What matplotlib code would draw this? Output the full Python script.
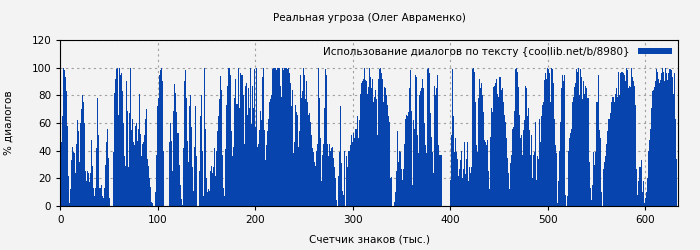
import numpy as np
import matplotlib
matplotlib.use("Agg")
import matplotlib.pyplot as plt

# % of dialogue per 1000 characters
part1 = [40, 46, 65, 100, 98, 93, 83, 58, 22, 2,
         12, 33, 43, 39, 38, 24, 45, 62, 54, 32,
         60, 70, 80, 75, 60, 25, 18, 30, 25, 24,
         17, 24, 48, 29, 13, 7, 13, 42, 78, 51,
         13, 13, 15, 7, 6, 13, 30, 46, 56, 35,
         6, 0, 0, 0, 39, 82, 92, 99, 100, 66,
         100, 95, 96, 83, 60, 36, 29, 66, 90, 69,
         28, 67, 100, 55, 63, 46, 44, 58, 60, 47,
         56, 81, 52, 36, 45, 46, 51, 63, 70, 34,
         29, 20, 14, 3, 2, 0, 0]
part2 = [10, 37, 72, 78, 95, 98, 100, 90, 40, 0,
         0, 0, 0, 0, 0, 46, 60, 47, 25, 69,
         88, 82, 68, 53, 53, 30, 15, 5, 1, 42,
         90, 98, 78, 47, 32, 72, 80, 57, 28, 11,
         43, 72, 36, 0, 0, 25, 65, 80, 40, 7,
         58, 100, 56, 20, 10, 12, 11, 25, 29, 24,
         28, 42, 22, 40, 54, 65, 77, 94, 84, 37,
         13, 7, 41, 73, 87, 100, 100, 95, 54, 36,
         43, 78, 92, 74, 74, 100, 71, 96, 95, 95,
         94, 80, 45, 87, 89, 66, 85, 71, 100, 59,
         87, 71, 99, 57, 100, 43, 45, 55, 69, 62,
         93, 100, 55]
part3 = [33, 44, 54, 63, 75, 77, 80, 99, 100, 100,
         100, 98, 100, 100, 100, 87, 79, 100, 100, 98,
         100, 100, 100, 99, 100, 96, 89, 72, 84, 38,
         46, 73, 68, 66, 43, 54, 95, 78, 83, 100,
         95, 77, 90, 75, 66, 67, 61, 51, 42, 39,
         32, 29, 40, 45, 100, 78, 49, 33, 18, 37,
         45, 71, 99, 95, 45, 36, 45, 40, 42, 43,
         35, 28, 20, 4, 0, 22, 39, 72, 31, 11,
         8, 40, 0, 36, 28, 40, 40, 44, 51, 46,
         53, 49, 56, 56, 65, 49, 62, 80, 81, 89,
         90, 92, 100]
part4 = [91, 90, 81, 86, 100, 93, 85, 92, 75, 79,
         84, 77, 51, 92, 99, 100, 96, 92, 75,
         86, 85, 80, 73, 65, 61, 20, 21, 0, 0,
         3, 10, 25, 54, 53, 32, 40, 39, 27, 19,
         27, 45, 63, 66, 65, 68, 85, 98, 69, 15,
         62, 56, 95, 93, 51, 38, 80, 83, 85, 92,
         85, 60, 44, 38, 99, 100, 96, 67, 50, 39,
         24, 87, 80, 85, 99, 95, 44, 37, 37, 37,
         0, 0, 0, 0, 0, 0, 0, 0, 19, 51,
         99, 65, 39, 49, 39, 34, 22, 27, 33, 40,
         20, 27, 46, 23]
part5 = [34, 46, 18, 28, 24, 28, 99, 100, 97, 75,
         65, 44, 39, 78, 92, 85, 89, 80, 68, 48,
         46, 44, 48, 25, 12, 50, 71, 68, 86, 87,
         89, 92, 81, 79, 93, 93, 84, 85, 75, 66,
         61, 49, 35, 24, 12, 31, 37, 56, 57, 69,
         89, 99, 100, 97, 86, 66, 49, 51, 37, 55,
         62, 87, 85, 65, 71, 55, 37, 51, 20,
         37, 39, 61, 19, 36, 34, 63, 46, 65, 73,
         75, 91, 96, 92, 100, 99, 96, 75, 100, 99,
         89, 68, 63, 44, 38, 2, 18, 40, 61, 85,
         95, 90, 95]
part6 = [8, 0, 7, 40, 49, 53, 56, 75, 79, 86,
         89, 99, 97, 100, 80, 99, 93, 77, 90, 81,
         87, 85, 78, 78, 32, 13, 4, 15, 31, 39,
         30, 39, 75, 75, 95, 55, 49, 10, 0, 27,
         32, 36, 45, 54, 63, 63, 67, 75, 79, 79,
         75, 81, 85, 79, 97, 80, 96, 97, 97, 96,
         95, 90, 100, 98, 85, 87, 86, 100, 97, 93,
         90, 87, 73, 27, 8, 18, 28, 28, 33, 10,
         18, 2, 6, 10, 20, 40, 48, 56, 71, 83,
         84, 86, 90, 99, 97, 92, 89, 91, 96, 100,
         97, 90, 100, 96, 91, 96, 99, 99, 100,
         98, 93, 81, 96, 63, 34]

values = part1 + part2 + part3 + part4 + part5 + part6
series_label = "Использование диалогов по тексту {coollib.net/b/8980}"
title = "Реальная угроза (Олег Авраменко)"
xlabel = "Счетчик знаков (тыс.)"
ylabel = "% диалогов"

bg = "#f3f3f3"
blue = "#0844ae"

fig = plt.figure(figsize=(7, 2.5), dpi=100, facecolor=bg)
ax = fig.add_axes([0.086, 0.176, 0.883, 0.664], facecolor=bg)

x = np.arange(len(values))
ax.bar(x, values, width=1.0, align="edge", color=blue, linewidth=0,
       label=series_label)

ax.set_xlim(0, 634)
ax.set_ylim(0, 120)
ax.set_xticks(np.arange(0, 601, 100))
ax.set_yticks(np.arange(0, 121, 20))
ax.tick_params(labelsize=7.5, length=3)
ax.set_axisbelow(True)
ax.grid(True, color="#a0a0a0", linestyle=(0, (2, 3)), linewidth=0.8)

ax.set_title(title, fontsize=7.5, pad=14)
ax.set_xlabel(xlabel, fontsize=7.5, labelpad=7)
ax.set_ylabel(ylabel, fontsize=7.5, labelpad=13)

ax.legend(loc="upper right", frameon=False, fontsize=7.5, markerfirst=False,
          handlelength=3.2, handleheight=0.55, borderaxespad=0.25,
          handletextpad=0.8)

fig.savefig("out.png", dpi=100, facecolor=bg)
